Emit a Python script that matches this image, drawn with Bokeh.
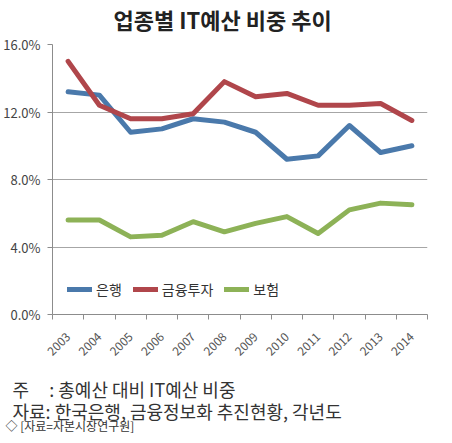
from bokeh.plotting import figure
from bokeh.models import (FixedTicker, Legend, LegendItem, ColumnDataSource, Range1d, Title)
from bokeh.embed import file_html
from bokeh.resources import INLINE
import math

years = ["2003", "2004", "2005", "2006", "2007", "2008", "2009", "2010", "2011", "2012", "2013", "2014"]
bank = [13.2, 13.0, 10.8, 11.0, 11.6, 11.4, 10.8, 9.2, 9.4, 11.2, 9.6, 10.0]
invest = [15.0, 12.4, 11.6, 11.6, 11.9, 13.8, 12.9, 13.1, 12.4, 12.4, 12.5, 11.5]
insurance = [5.6, 5.6, 4.6, 4.7, 5.5, 4.9, 5.4, 5.8, 4.8, 6.2, 6.6, 6.5]
series_names = ["은행", "금융투자", "보험"]
colors = ["#4a79ab", "#b0464b", "#8db257"]
y_ticks = [0, 4, 8, 12, 16]
y_labels = ["0.0%", "4.0%", "8.0%", "12.0%", "16.0%"]
title_text = "업종별 IT예산 비중 추이"
note1 = "주\u00a0\u00a0\u00a0\u00a0\u00a0:\u00a0총예산 대비 IT예산 비중"
note2 = "자료: 한국은행, 금융정보화 추진현황, 각년도"
note3 = "◇ [자료=자본시장연구원]"

FONT = "Noto Sans CJK KR"
W, H = 436, 434

p = figure(width=W, height=H, output_backend="svg", toolbar_location=None,
           x_range=Range1d(0, len(years)), y_range=Range1d(0, 16),
           min_border_left=52, min_border_right=9, min_border_top=44, min_border_bottom=120)
p.outline_line_color = None
p.xgrid.grid_line_color = None
p.ygrid.grid_line_color = "#a6a6a6"
p.ygrid.grid_line_width = 1
p.ygrid.ticker = FixedTicker(ticks=y_ticks)
p.title.text = ""


def spacer(px):
    # tiny white title used only to add vertical room in a side panel
    return Title(text=".", text_font_size="1px", standoff=px, text_color="white")


# spacer next to the frame, heading outside it
p.add_layout(spacer(6.5), "above")
p.add_layout(Title(text=title_text, align="left", offset=61, standoff=0, text_font=FONT,
                   text_font_size="22px", text_font_style="bold", text_color="#222222"), "above")

xs = [i + 0.5 for i in range(len(years))]
src = ColumnDataSource(dict(x=xs, bank=bank, invest=invest, insurance=insurance))
renderers = []
for key, c in zip(["bank", "invest", "insurance"], colors):
    r = p.line("x", key, source=src, line_color=c, line_width=5, line_join="round", line_cap="round")
    renderers.append(r)

p.xaxis.ticker = FixedTicker(ticks=xs, minor_ticks=list(range(len(years) + 1)))
p.xaxis.major_label_overrides = {x: y for x, y in zip(xs, years)}
p.xaxis.major_tick_out = 0
p.xaxis.major_tick_in = 0
p.xaxis.minor_tick_out = 5
p.xaxis.minor_tick_in = 0
p.xaxis.minor_tick_line_color = "#8c8c8c"
p.xaxis.axis_line_color = "#8c8c8c"
p.xaxis.major_label_orientation = math.pi / 4
p.xaxis.major_label_text_font = FONT
p.xaxis.major_label_text_font_size = "12px"
p.xaxis.major_label_text_color = "#555555"
p.xaxis.major_label_standoff = 15

p.yaxis.ticker = FixedTicker(ticks=y_ticks)
p.yaxis.major_label_overrides = {t: l for t, l in zip(y_ticks, y_labels)}
p.yaxis.major_tick_out = 5
p.yaxis.major_tick_in = 0
p.yaxis.minor_tick_out = 0
p.yaxis.minor_tick_in = 0
p.yaxis.axis_line_color = "#8c8c8c"
p.yaxis.major_tick_line_color = "#8c8c8c"
p.yaxis.major_label_text_font = FONT
p.yaxis.major_label_text_font_size = "13px"
p.yaxis.major_label_text_color = "#444444"
p.yaxis.major_label_standoff = 7

legend = Legend(items=[LegendItem(label=n, renderers=[r]) for n, r in zip(series_names, renderers)],
                orientation="horizontal", location=(15, 15))
legend.border_line_color = None
legend.background_fill_alpha = 0
legend.padding = 0
legend.margin = 0
legend.spacing = 11
legend.glyph_width = 25
legend.label_standoff = 4
legend.label_text_font = FONT
legend.label_text_font_size = "14px"
legend.label_text_color = "#333333"
p.add_layout(legend, "center")

# notes (below, stacked outward from the x axis)
p.add_layout(spacer(15.5), "below")
p.add_layout(Title(text=note1 + "\n" + note2, align="left", offset=-40, standoff=-14, text_font=FONT,
                   text_font_size="18px", text_line_height=0.86, text_font_style="normal",
                   text_color="#333333"), "below")
p.add_layout(Title(text=note3, align="left", offset=-47, standoff=-6, text_font=FONT,
                   text_font_size="12px", text_font_style="normal", text_color="#333333"), "below")

open("out.html", "w").write(file_html(p, INLINE))
